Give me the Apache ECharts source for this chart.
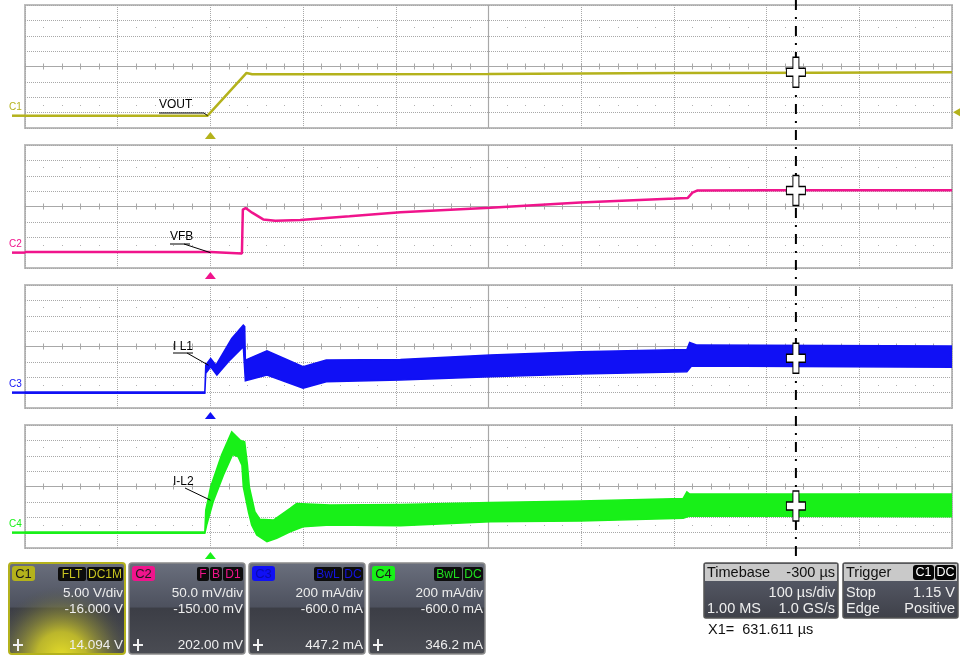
<!DOCTYPE html>
<html>
<head>
<meta charset="utf-8">
<title>Scope capture</title>
<script src="https://cdn.jsdelivr.net/npm/echarts@6/dist/echarts.min.js"></script>
<style>
    html, body { margin: 0; padding: 0; background: #fff; }
    #main { width: 960px; height: 660px; }
</style>
</head>
<body>
<div id="main"></div>
<script>
// time in µs, 100 µs/div, trigger at 0
const timeMin = -200;
const timeMax = 800;
const timeDiv = 100;

// channel scales (center value and units/div), 8 divisions high
const chNames = ["C1", "C2", "C3", "C4"];
const chColors = ["#b4b21c", "#f0148c", "#1010f5", "#18f018"];
const chCenter = [16, 150, 600, 600];
const chPerDiv = [5, 50, 200, 200];

// C1 VOUT (V)
const voutT = [-200, -3, 39, 45, 150, 300, 500, 650, 800];
const voutV = [0, 0, 13.9, 13.5, 13.5, 13.6, 13.9, 14.0, 14.1];

// C2 VFB (mV)
const vfbT = [-200, 0, 1, 34, 35, 38, 45, 57, 70, 97, 150, 205, 302, 399, 501, 515, 520, 525, 600, 800];
const vfbV = [2, 2, -3, -3, 140, 145, 130, 108, 104, 106, 118, 131, 146, 163, 176, 178, 195, 202, 203, 203];

// C3 I L1 (mA) - ripple envelope
const il1TopT = [-200, -6, -5, 0.3, 6, 23, 35.5, 37, 37.7, 61, 100, 125, 205, 302, 399, 514, 517, 525, 800];
const il1TopV = [8, 8, 358, 445, 358, 705, 878, 860, 423, 544, 336, 423, 432, 488, 531, 562, 653, 618, 605];
const il1BotT = [-200, -6, -5, 0.3, 7, 21, 35.5, 37.7, 61, 100, 125, 205, 302, 399, 514, 519, 800];
const il1BotV = [-8, -8, 250, 336, 229, 423, 597, 155, 229, 56, 142, 164, 207, 242, 272, 346, 329];

// C4 I-L2 (mA) - ripple envelope
const il2TopT = [-200, -6, -5, 0.3, 12, 23, 32, 37, 40, 42, 48, 53.5, 68, 86, 93, 129, 205, 302, 399, 510, 514, 517, 800];
const il2TopV = [8, 8, 294, 596, 1008, 1311, 1203, 1181, 878, 596, 272, 173, 164, 315, 380, 359, 367, 393, 410, 445, 531, 501, 501];
const il2BotT = [-200, -6, -4, 3, 14, 24, 30, 34, 35.5, 41, 44.5, 50, 61, 71.5, 86, 100, 129, 205, 302, 399, 510, 517, 800];
const il2BotV = [-8, -8, 99, 401, 748, 1017, 986, 878, 596, 272, 99, -31, -118, -74, 12, 77, 99, 90, 142, 151, 186, 216, 207];

// cursor X1 and readouts
const cursorT = 631.611;
const cursorVals = [14.094, 202.0, 447.2, 346.2];
const trigLevel = 1.15;

// readout panel texts
const chScaleTxt = ["5.00 V/div", "50.0 mV/div", "200 mA/div", "200 mA/div"];
const chOffsetTxt = ["-16.000 V", "-150.00 mV", "-600.0 mA", "-600.0 mA"];
const chCursorTxt = ["14.094 V", "202.00 mV", "447.2 mA", "346.2 mA"];
const chBadges = [["FLT", "DC1M"], ["F", "B", "D1"], ["BwL", "DC"], ["BwL", "DC"]];
const traceNames = ["VOUT", "VFB", "I L1", "I-L2"];

const FONT = "Liberation Sans, Arial, sans-serif";
const GRID_LEFT = 25;
const GRID_W = 927;
const GRID_H = 123;
const panelTops = [5, 145, 285, 425];
const gridGray = "#a8a8a8";

let xAxes = [];
let yAxes = [];
let ax = [];

const zip = (a, b) => a.map((t, i) => [t, b[i]]);

// axes for one panel: main one with the dotted divisions, then the solid centre line and dot rows
for (let i = 0; i < 4; i++) {
    let yMin = chCenter[i] - 4 * chPerDiv[i];
    let yMax = chCenter[i] + 4 * chPerDiv[i];
    let base = { gridIndex: i, type: "value", min: timeMin, max: timeMax, interval: timeDiv,
        axisLabel: { show: false }, splitLine: { show: false } };

    ax.push({ x: xAxes.length, y: yAxes.length });
    xAxes.push(Object.assign({}, base, {
        axisLine: { show: false }, axisTick: { show: false },
        splitLine: { show: true, lineStyle: { color: gridGray, type: "dotted", width: 1 } }
    }));
    // centre line, ticks pointing down and up
    ["bottom", "top"].forEach(pos => {
        xAxes.push(Object.assign({}, base, {
            position: pos, offset: -GRID_H / 2,
            axisLine: { show: pos === "bottom", onZero: false, lineStyle: { color: gridGray, width: 1 } },
            axisTick: { show: true, length: 3, lineStyle: { color: gridGray } },
            minorTick: { show: true, splitNumber: 5, length: 3, lineStyle: { color: gridGray } }
        }));
    });
    // faint dot rows
    ["bottom", "top"].forEach(pos => {
        xAxes.push(Object.assign({}, base, {
            position: pos, offset: -23,
            axisLine: { show: false, onZero: false },
            axisTick: { show: true, length: 1, lineStyle: { color: "#b0b0b0" } },
            minorTick: { show: true, splitNumber: 5, length: 1, lineStyle: { color: "#b0b0b0" } }
        }));
    });

    yAxes.push({
        gridIndex: i, type: "value", min: yMin, max: yMax, interval: chPerDiv[i],
        axisLabel: { show: false }, axisLine: { show: false, onZero: false }, axisTick: { show: false },
        splitLine: { show: true, lineStyle: { color: gridGray, type: "dotted", width: 1 } }
    });
}

const bandSeries = (i, topT, topV, botT, botV) => ({
    type: "custom",
    xAxisIndex: ax[i].x,
    yAxisIndex: ax[i].y,
    clip: true,
    silent: true,
    data: [[0, 0]],
    renderItem: (params, api) => {
        let pts = [];
        for (let k = 0; k < topT.length; k++) pts.push(api.coord([topT[k], topV[k]]));
        for (let k = botT.length - 1; k >= 0; k--) pts.push(api.coord([botT[k], botV[k]]));
        return {
            type: "polygon",
            shape: { points: pts },
            style: { fill: chColors[i], stroke: chColors[i], lineWidth: 1.5 }
        };
    }
});

const lineSeries = (i, t, v) => ({
    type: "line",
    xAxisIndex: ax[i].x,
    yAxisIndex: ax[i].y,
    data: zip(t, v),
    symbol: "none",
    silent: true,
    lineStyle: { color: chColors[i], width: 2.5 },
    z: 3
});

const crossPath = "path://M6.5,0H12.5V11H19V19H12.5V30H6.5V19H0V11H6.5Z";

let series = [
    lineSeries(0, voutT, voutV),
    lineSeries(1, vfbT, vfbV),
    bandSeries(2, il1TopT, il1TopV, il1BotT, il1BotV),
    bandSeries(3, il2TopT, il2TopV, il2BotT, il2BotV)
];
for (let i = 0; i < 4; i++) {
    series.push({
        type: "scatter",
        xAxisIndex: ax[i].x,
        yAxisIndex: ax[i].y,
        data: [[cursorT, cursorVals[i]]],
        symbol: crossPath,
        symbolSize: [19, 30],
        silent: true,
        itemStyle: { color: "#fff", borderColor: "#000", borderWidth: 1.2, opacity: 1 },
        z: 60
    });
}

const option = {
    animation: false,
    backgroundColor: "#fff",
    grid: panelTops.map(top => ({
        left: GRID_LEFT, top: top, width: GRID_W, height: GRID_H,
        show: true, borderColor: "#bdbdbd", borderWidth: 2, backgroundColor: "transparent"
    })),
    xAxis: xAxes,
    yAxis: yAxes,
    series: series
};

const chart = echarts.init(document.getElementById("main"));
chart.setOption(option);

const px = (i, t, v) => chart.convertToPixel({ xAxisIndex: ax[i].x, yAxisIndex: ax[i].y }, [t, v]);

const txt = (x, y, s, size, color, align, z) => ({
    type: "text", x: x, y: y, z: z || 20,
    style: { text: s, fill: color, font: size + "px " + FONT, textAlign: align || "left", textVerticalAlign: "middle" }
});

let g = [];

// zero markers, trigger triangles, centre verticals, trace names
const labelPos = [[159, 105, 113], [170, 237, 244], [173, 347, 353], [173, 482, 488]];
const leaderAt = [[-3, 0], [0, 0], [-2, 356], [0, 422]];
for (let i = 0; i < 4; i++) {
    let col = chColors[i];
    let zero = px(i, 0, 0);
    g.push({ type: "line", shape: { x1: 12, y1: zero[1], x2: GRID_LEFT, y2: zero[1] }, style: { stroke: col, lineWidth: 2.5 }, z: 5 });
    g.push(txt(9, zero[1] - 8, chNames[i], 10, col, "left"));

    let mid = px(i, (timeMin + timeMax) / 2, 0)[0];
    g.push({ type: "line", shape: { x1: mid, y1: panelTops[i], x2: mid, y2: panelTops[i] + GRID_H }, style: { stroke: gridGray, lineWidth: 1.2 }, z: 1 });

    let bottom = panelTops[i] + GRID_H;
    g.push({ type: "polygon", shape: { points: [[zero[0], bottom + 4], [zero[0] - 5.5, bottom + 11], [zero[0] + 5.5, bottom + 11]] }, style: { fill: col }, z: 5 });

    let lp = labelPos[i];
    g.push(txt(lp[0], lp[1], traceNames[i], 12, "#000", "left"));
    let end = px(i, leaderAt[i][0], leaderAt[i][1]);
    if (i < 3) {
        let uEnd = lp[0] + (i === 0 ? 45 : 20);
        g.push({ type: "line", shape: { x1: lp[0], y1: lp[2], x2: uEnd, y2: lp[2] }, style: { stroke: "#000", lineWidth: 1 }, z: 20 });
        g.push({ type: "line", shape: { x1: uEnd - (i === 0 ? 0 : 6), y1: lp[2], x2: end[0], y2: end[1] }, style: { stroke: "#000", lineWidth: 1 }, z: 20 });
    } else {
        g.push({ type: "line", shape: { x1: lp[0] + 12, y1: lp[2], x2: end[0], y2: end[1] }, style: { stroke: "#000", lineWidth: 1 }, z: 20 });
    }
}

// trigger level arrow on C1, right edge
let tl = px(0, timeMax, trigLevel);
g.push({ type: "polygon", shape: { points: [[tl[0] + 1, tl[1]], [tl[0] + 8, tl[1] - 4], [tl[0] + 8, tl[1] + 4]] }, style: { fill: chColors[0] }, z: 5 });

// cursor X1
let cx = px(0, cursorT, 0)[0];
g.push({ type: "line", shape: { x1: cx, y1: 0, x2: cx, y2: 556 }, style: { stroke: "#000", lineWidth: 2, lineDash: [10, 7, 2, 7] }, z: 50 });

// channel readout boxes
const boxX = [9, 129, 249, 369];
const badgeText = ["#c8c420", "#f0148c", "#1414e0", "#20e020"];
const smallCross = (x, y) => ({
    type: "polygon", z: 24,
    shape: { points: [[x - 1, y - 6], [x + 1, y - 6], [x + 1, y - 1], [x + 5, y - 1], [x + 5, y + 1], [x + 1, y + 1], [x + 1, y + 6], [x - 1, y + 6], [x - 1, y + 1], [x - 5, y + 1], [x - 5, y - 1], [x - 1, y - 1]] },
    style: { fill: "#f0f0f0" }
});
for (let i = 0; i < 4; i++) {
    let x = boxX[i];
    let y = 563;
    g.push({
        type: "rect", z: 20,
        shape: { x: x, y: y, width: 116, height: 91, r: 3 },
        style: {
            fill: new echarts.graphic.LinearGradient(0, 0, 0, 1, [
                { offset: 0, color: "#6a6f7d" }, { offset: 0.48, color: "#4d515e" },
                { offset: 0.5, color: "#3c3e46" }, { offset: 1, color: "#4a4c53" }
            ]),
            stroke: i === 0 ? "#b4b21c" : "#8a8a8a", lineWidth: i === 0 ? 2 : 1.5
        }
    });
    if (i === 0) {
        g.push({
            type: "rect", z: 21,
            shape: { x: x + 1, y: y + 20, width: 114, height: 70, r: 3 },
            style: {
                fill: new echarts.graphic.RadialGradient(0.45, 1.05, 1.0, [
                    { offset: 0, color: "rgba(228,220,40,1)" }, { offset: 0.35, color: "rgba(200,194,40,0.9)" },
                    { offset: 0.7, color: "rgba(140,138,55,0.45)" }, { offset: 1, color: "rgba(80,82,70,0)" }
                ])
            }
        });
    }
    g.push({ type: "rect", z: 22, shape: { x: x + 3, y: y + 3, width: 23, height: 15, r: 3 }, style: { fill: chColors[i] } });
    g.push(txt(x + 14.5, y + 11, chNames[i], 13, i === 2 ? "#0a0ab0" : "#1a1a1a", "center", 23));

    let bx = x + 114;
    for (let k = chBadges[i].length - 1; k >= 0; k--) {
        let s = chBadges[i][k];
        let w = s.length * 8 + 4;
        g.push({ type: "rect", z: 22, shape: { x: bx - w, y: y + 4, width: w, height: 14, r: 2 }, style: { fill: "#0c0c0c" } });
        g.push(txt(bx - w / 2, y + 11.5, s, 12, badgeText[i], "center", 23));
        bx -= w + 1;
    }
    g.push(txt(x + 114, y + 30, chScaleTxt[i], 13.5, "#eeeeee", "right", 23));
    g.push(txt(x + 114, y + 46, chOffsetTxt[i], 13.5, "#eeeeee", "right", 23));
    g.push(txt(x + 114, y + 82, chCursorTxt[i], 13.5, "#eeeeee", "right", 23));
    g.push(smallCross(x + 9, y + 82));
}

// timebase and trigger boxes
const infoBox = (x, w, head, headRight, rows) => {
    g.push({
        type: "rect", z: 20, shape: { x: x, y: 563, width: w, height: 55, r: 2 },
        style: {
            fill: new echarts.graphic.LinearGradient(0, 0, 0, 1, [
                { offset: 0, color: "#5d6170" }, { offset: 1, color: "#3e4048" }
            ]),
            stroke: "#555", lineWidth: 1.5
        }
    });
    g.push({ type: "rect", z: 21, shape: { x: x + 1, y: 564, width: w - 2, height: 17 }, style: { fill: "#c9c9c9" } });
    g.push(txt(x + 3, 572.5, head, 14.5, "#111", "left", 23));
    if (typeof headRight === "string") {
        g.push(txt(x + w - 3, 572.5, headRight, 14.5, "#111", "right", 23));
    } else {
        let bx = x + w - 2;
        for (let k = headRight.length - 1; k >= 0; k--) {
            let bw = headRight[k].length * 9 + 3;
            g.push({ type: "rect", z: 22, shape: { x: bx - bw, y: 565, width: bw, height: 15, r: 3 }, style: { fill: "#050505" } });
            g.push(txt(bx - bw / 2, 572.5, headRight[k], 12.5, "#fff", "center", 23));
            bx -= bw + 1;
        }
    }
    rows.forEach((r, k) => {
        let yy = 593 + k * 16;
        if (r[0]) g.push(txt(x + 3, yy, r[0], 14.5, "#eeeeee", "left", 23));
        if (r[1]) g.push(txt(x + w - 3, yy, r[1], 14.5, "#eeeeee", "right", 23));
    });
};
infoBox(704, 134, "Timebase", "-300 µs", [["", "100 µs/div"], ["1.00 MS", "1.0 GS/s"]]);
infoBox(843, 115, "Trigger", ["C1", "DC"], [["Stop", "1.15 V"], ["Edge", "Positive"]]);
g.push(txt(708, 630, "X1=  " + cursorT.toFixed(3) + " µs", 14.5, "#111", "left"));

chart.setOption({ graphic: { elements: g } });
</script>
</body>
</html>
